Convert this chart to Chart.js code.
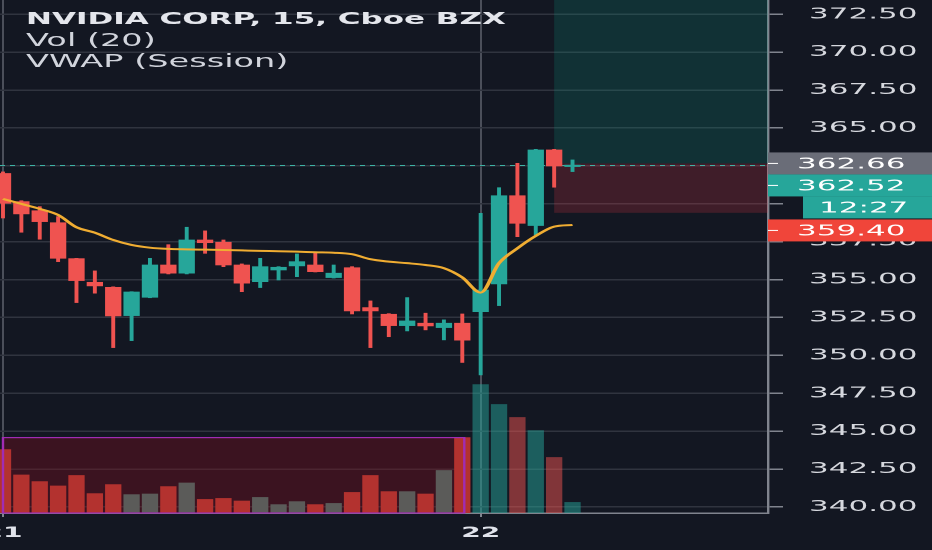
<!DOCTYPE html>
<html>
<head>
<meta charset="utf-8">
<title>NVIDIA CORP, 15, Cboe BZX</title>
<script src="https://cdn.jsdelivr.net/npm/chart.js@4.4.1/dist/chart.umd.min.js"></script>
<style>
    html, body { margin: 0; padding: 0; background: #131722; overflow: hidden; }
    /* the reference is stretched sideways, so the whole chart is drawn half width and scaled */
    #stage { position: relative; width: 466px; height: 550px; transform: scaleX(2); transform-origin: 0 0; }
    #legend { position: absolute; left: 13px; top: 9px; font-family: 'DejaVu Sans', sans-serif; color: #d1d4dc; pointer-events: none; }
    #legend div { height: 21px; line-height: 21px; white-space: nowrap; }
    #legend .sym { font-weight: bold; font-size: 15.5px; color: #e4e6ec; }
    #legend .ind { font-size: 16.8px; }
</style>
</head>
<body>
<div id="stage">
    <canvas id="chart" width="466" height="550"></canvas>
    <div id="legend">
        <div class="sym">NVIDIA CORP, 15, Cboe BZX</div>
        <div class="ind">Vol (20)</div>
        <div class="ind">VWAP (Session)</div>
    </div>
</div>
<script>
// 15 minute candles, 21st and 22nd
const dayLabels = ['21', '22'];
const dayStarts = [0, 26];

const opens  = [362.00, 360.14, 359.54, 358.75, 356.38, 354.82, 354.49, 352.62, 353.83, 355.96, 355.42, 357.61, 357.46, 355.96, 354.86, 355.63,
                355.90, 355.96, 355.13, 355.78, 353.15, 352.71, 351.96, 352.12, 351.83, 352.12, 352.88, 354.71, 360.53, 358.56, 363.55, 362.45];
const highs  = [362.10, 360.20, 359.81, 359.15, 356.40, 355.57, 354.52, 354.20, 356.40, 357.30, 358.45, 358.21, 357.61, 356.03, 356.40, 355.85,
                356.69, 356.77, 355.96, 355.85, 353.59, 352.75, 353.81, 352.78, 352.34, 352.73, 359.37, 361.06, 362.67, 363.59, 363.59, 362.89];
const lows   = [359.06, 358.12, 357.66, 356.18, 353.48, 354.10, 350.51, 350.97, 353.80, 355.37, 355.37, 356.73, 355.85, 354.20, 354.47, 354.97,
                355.19, 355.50, 355.10, 352.73, 350.51, 351.23, 351.61, 351.68, 351.02, 349.53, 348.71, 353.28, 357.83, 357.94, 361.09, 362.12];
const closes = [360.03, 359.33, 358.82, 356.40, 354.93, 354.58, 352.60, 354.18, 355.96, 355.42, 357.61, 357.43, 355.96, 354.76, 355.85, 355.81,
                356.18, 355.52, 355.42, 352.93, 352.93, 351.96, 352.27, 351.94, 352.12, 351.00, 354.31, 360.53, 358.71, 363.55, 362.49, 362.52];
// volume in thousands of shares
const volumes = [317, 190, 157, 135, 188, 97, 142, 92, 95, 132, 150, 68, 73, 60, 78, 42,
                 57, 42, 48, 103, 188, 107, 107, 95, 213, 377, 642, 543, 478, 412, 278, 53];
const vwap = [360.32, 359.99, 359.66, 359.26, 358.45, 358.09, 357.61, 357.28, 357.10, 357.02, 356.99, 356.97, 356.95, 356.92, 356.89, 356.87,
              356.84, 356.80, 356.77, 356.67, 356.34, 356.18, 356.08, 355.96, 355.75, 355.14, 354.14, 356.08, 357.06, 357.88, 358.49, 358.60];

const LAST = 362.52;
const ENTRY = 362.66;
const STOP = 359.40;
const POS_FROM = 30;
const VOL_BOX_FROM = 0;
const VOL_BOX_TO = 25;
const COUNTDOWN = '12:27';

const UP = '#26a69a';
const DOWN = '#ef5350';
const FONT = "'DejaVu Sans', sans-serif";
const AXIS_FONT_SIZE = 15.5;

const isUp = opens.map((o, i) => closes[i] >= o);
const candleColors = isUp.map(u => (u ? UP : DOWN));
const volColors = isUp.map((u, i) => {
    if (i <= VOL_BOX_TO) return u ? '#5b5b59' : '#b3322f';
    return u ? 'rgba(38,166,154,0.5)' : 'rgba(239,83,80,0.5)';
});

function overlayPlugin() {
    return {
        id: 'overlays',
        beforeDatasetsDraw(chart) {
            const { ctx, chartArea: a, scales: { x, y, yVol } } = chart;
            ctx.save();
            // long position tool: target zone and stop zone
            const px = x.getPixelForValue(POS_FROM);
            const yE = y.getPixelForValue(ENTRY);
            const yS = y.getPixelForValue(STOP);
            ctx.fillStyle = 'rgba(8,153,129,0.2)';
            ctx.fillRect(px, a.top, a.right - px, yE - a.top);
            ctx.fillStyle = 'rgba(242,54,69,0.2)';
            ctx.fillRect(px, yE, a.right - px, yS - yE);

            // volume range box
            const bx0 = x.getPixelForValue(VOL_BOX_FROM);
            const bx1 = x.getPixelForValue(VOL_BOX_TO) + 1;
            const by0 = yVol.getPixelForValue(Math.max(...volumes.slice(VOL_BOX_FROM, VOL_BOX_TO + 1)));
            ctx.fillStyle = 'rgba(120,16,30,0.4)';
            ctx.fillRect(bx0, by0, bx1 - bx0, a.bottom - by0);

            // last price line
            const yL = y.getPixelForValue(LAST);
            ctx.strokeStyle = '#3fb3a6';
            ctx.lineWidth = 1;
            ctx.setLineDash([2.5, 2.5]);
            ctx.beginPath();
            ctx.moveTo(a.left, yL);
            ctx.lineTo(a.right, yL);
            ctx.stroke();
            ctx.restore();
        },
        afterDatasetsDraw(chart) {
            const { ctx, chartArea: a, scales: { x, yVol } } = chart;
            const bx0 = x.getPixelForValue(VOL_BOX_FROM);
            const bx1 = x.getPixelForValue(VOL_BOX_TO) + 1;
            const by0 = yVol.getPixelForValue(Math.max(...volumes.slice(VOL_BOX_FROM, VOL_BOX_TO + 1)));
            ctx.save();
            ctx.strokeStyle = '#a02cb4';
            ctx.lineWidth = 1.2;
            ctx.strokeRect(bx0, by0, bx1 - bx0, a.bottom - by0);
            ctx.restore();
        },
        afterDraw(chart) {
            const { ctx, scales: { y } } = chart;
            const H = 22;
            const tags = [
                { text: ENTRY.toFixed(2), value: ENTRY, bg: '#6a6d78' },
                { text: LAST.toFixed(2), value: LAST, bg: UP },
                { text: COUNTDOWN, value: null, bg: UP, inset: 17.5 },
                { text: STOP.toFixed(2), value: STOP, bg: '#f0453a', gap: 1 }
            ];
            let prevBottom = -Infinity;
            ctx.save();
            ctx.font = AXIS_FONT_SIZE + 'px ' + FONT;
            ctx.textBaseline = 'middle';
            ctx.textAlign = 'left';
            tags.forEach(tag => {
                let top = tag.value === null ? prevBottom : y.getPixelForValue(tag.value) - H / 2;
                if (top < prevBottom + (tag.gap || 0)) top = prevBottom + (tag.gap || 0);
                const left = y.left + (tag.inset || 0);
                ctx.fillStyle = tag.bg;
                ctx.fillRect(left, top, y.right - left, H);
                ctx.fillStyle = '#ffffff';
                if (!tag.inset) {
                    ctx.fillRect(y.left, top + H / 2 - 0.5, 5, 1);
                    ctx.fillText(tag.text, y.left + 14.5, top + H / 2 + 1);
                } else {
                    ctx.fillText(tag.text, left + 8, top + H / 2 + 1);
                }
                prevBottom = top + H;
            });
            ctx.restore();
        }
    };
}

const ctx = document.getElementById('chart').getContext('2d');
new Chart(ctx, {
    type: 'bar',
    data: {
        datasets: [
            {
                type: 'line',
                label: 'VWAP',
                data: vwap.map((v, i) => ({ x: i, y: v })),
                borderColor: '#f0ad32',
                borderWidth: 2,
                pointRadius: 0,
                cubicInterpolationMode: 'monotone',
                yAxisID: 'y',
                order: 1
            },
            {
                label: 'Body',
                data: opens.map((o, i) => ({ x: i, y: [o, closes[i]] })),
                backgroundColor: candleColors,
                barThickness: 7.5,
                minBarLength: 1.5,
                grouped: false,
                borderSkipped: false,
                yAxisID: 'y',
                order: 2
            },
            {
                label: 'Wick',
                data: lows.map((l, i) => ({ x: i, y: [l, highs[i]] })),
                backgroundColor: candleColors,
                barThickness: 1.3,
                grouped: false,
                borderSkipped: false,
                yAxisID: 'y',
                order: 3
            },
            {
                label: 'Vol',
                data: volumes.map((v, i) => ({ x: i, y: v })),
                backgroundColor: volColors,
                barThickness: 7.5,
                grouped: false,
                yAxisID: 'yVol',
                order: 5
            }
        ]
    },
    options: {
        responsive: false,
        devicePixelRatio: 2,
        animation: false,
        events: [],
        layout: { padding: 0 },
        plugins: { legend: { display: false }, tooltip: { enabled: false } },
        scales: {
            x: {
                type: 'linear',
                min: -0.163,
                max: 41.64,
                offset: false,
                afterBuildTicks: scale => { scale.ticks = dayStarts.map(v => ({ value: v })); },
                afterFit: scale => { scale.paddingLeft = 0; scale.paddingRight = 0; scale.height = 37; },
                ticks: {
                    autoSkip: false,
                    maxRotation: 0,
                    padding: 8,
                    color: '#e0e3eb',
                    font: { family: FONT, size: 14, weight: 'bold' },
                    callback: v => dayLabels[dayStarts.indexOf(v)]
                },
                grid: { color: '#4b4f5a', lineWidth: 1, offset: false, tickLength: 4, tickColor: '#80848e' },
                border: { color: '#80848e', width: 1.5 }
            },
            y: {
                type: 'linear',
                position: 'right',
                min: 339.60,
                max: 373.44,
                afterFit: scale => { scale.width = 82; scale.paddingTop = 0; scale.paddingBottom = 0; },
                ticks: {
                    stepSize: 2.5,
                    maxTicksLimit: 20,
                    includeBounds: false,
                    padding: 13,
                    color: '#d6d8de',
                    font: { family: FONT, size: AXIS_FONT_SIZE },
                    callback: v => v.toFixed(2)
                },
                grid: { color: '#30343f', lineWidth: 1.5, tickLength: 7.5, tickColor: '#80848e', tickWidth: 1.5 },
                border: { color: '#80848e', width: 1.2 }
            },
            yVol: {
                type: 'linear',
                display: false,
                min: 0,
                max: 2565
            }
        }
    },
    plugins: [overlayPlugin()]
});
</script>
</body>
</html>
